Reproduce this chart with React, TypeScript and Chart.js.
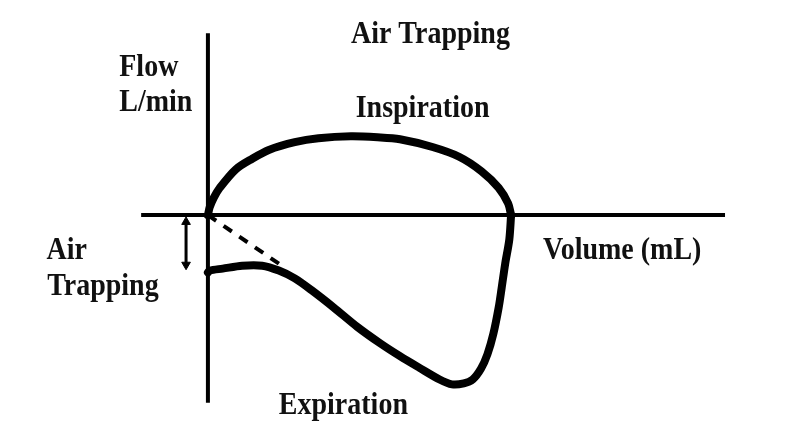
import React, { useEffect, useRef } from "react";
import { Chart, registerables } from "chart.js";

Chart.register(...registerables);

// Volume (mL) and Flow (L/min)
const inspVolume = [0, 3, 10, 20, 47, 75, 103, 147, 187, 242, 287, 325, 380, 425, 463, 492, 508, 513];
const inspFlow = [0, 4, 9, 14, 23.5, 29, 33.5, 37.5, 39.5, 40.5, 40, 39, 35, 30, 22.5, 14, 6, 0];

const expVolume = [513, 510, 503, 497, 492, 483, 473, 462, 448, 433, 413, 392, 358, 325, 292, 253, 213, 175, 147, 120, 92, 58, 25, 3, 0];
const expFlow = [0, -12.5, -25, -37.5, -47.5, -61, -71.5, -79, -84.5, -86.5, -87, -84.5, -78.5, -72.5, -66, -57.5, -47.5, -38.5, -32.5, -28.5, -26, -26, -27.5, -28.5, -29.5];

const dashVolume = [0, 125];
const dashFlow = [0, -26];

const trapVolume = [-37, -37];
const trapFlow = [-3.5, -25.5];

const xAxisVolume = [-113, 875];
const xAxisFlow = [0, 0];
const yAxisVolume = [0, 0];
const yAxisFlow = [93.5, -96.5];

const labelTexts = ["Air Trapping", "Flow", "L/min", "Inspiration", "Volume (mL)", "Air", "Trapping", "Expiration"];
const labelVolume = [242, -150, -150, 250, 567, -273, -272, 120];
const labelFlow = [88.5, 71.5, 53.5, 50.5, -22.5, -22.5, -41, -102];

const pts = (xs: number[], ys: number[]) => xs.map((x, i) => ({ x, y: ys[i] }));

const labelsPlugin = {
  id: "textLabels",
  afterDatasetsDraw(chart: any) {
    const { ctx, scales } = chart;
    const xs = scales.x;
    const ys = scales.y;
    ctx.save();
    ctx.fillStyle = "#111";
    ctx.font = 'bold 28px "Liberation Serif", "Times New Roman", serif';
    ctx.textAlign = "left";
    ctx.textBaseline = "alphabetic";
    labelTexts.forEach((t, i) => {
      const px = xs.getPixelForValue(labelVolume[i]);
      const py = ys.getPixelForValue(labelFlow[i]);
      ctx.save();
      ctx.translate(px, py);
      ctx.scale(1, 1.1);
      ctx.fillText(t, 0, 0);
      ctx.restore();
    });
    ctx.restore();
  },
};

export default function App() {
  const ref = useRef<HTMLCanvasElement | null>(null);
  useEffect(() => {
    document.body.style.margin = "0";
    document.body.style.background = "#fff";
    const canvas = ref.current!;
    const chart = new Chart(canvas, {
      type: "scatter",
      data: {
        datasets: [
          {
            label: "Inspiration",
            data: pts(inspVolume, inspFlow),
            showLine: true,
            borderColor: "#000",
            borderWidth: 8,
            pointRadius: 0,
            tension: 0.3,
            borderJoinStyle: "round",
            borderCapStyle: "round",
            order: 1,
          },
          {
            label: "Expiration",
            data: pts(expVolume, expFlow),
            showLine: true,
            borderColor: "#000",
            borderWidth: 8,
            pointRadius: 0,
            tension: 0.3,
            borderJoinStyle: "round",
            borderCapStyle: "round",
            order: 1,
          },
          {
            label: "Normal",
            data: pts(dashVolume, dashFlow),
            showLine: true,
            borderColor: "#000",
            borderWidth: 4,
            borderDash: [10, 9],
            pointRadius: 0,
            order: 2,
          },
          {
            label: "Trap",
            data: pts(trapVolume, trapFlow),
            showLine: true,
            borderColor: "#000",
            borderWidth: 3,
            pointStyle: "triangle",
            pointRadius: 5,
            pointRotation: [0, 180],
            pointBackgroundColor: "#000",
            pointBorderColor: "#000",
            pointBorderWidth: 1,
            order: 2,
          },
          {
            label: "xAxis",
            data: pts(xAxisVolume, xAxisFlow),
            showLine: true,
            borderColor: "#000",
            borderWidth: 4,
            pointRadius: 0,
            order: 5,
          },
          {
            label: "yAxis",
            data: pts(yAxisVolume, yAxisFlow),
            showLine: true,
            borderColor: "#000",
            borderWidth: 4,
            pointRadius: 0,
            order: 5,
          },
        ],
      },
      options: {
        animation: false,
        responsive: false,
        maintainAspectRatio: false,
        layout: { padding: 0 },
        plugins: { legend: { display: false }, tooltip: { enabled: false }, title: { display: false } },
        scales: {
          x: { type: "linear", min: -205 / 0.6, max: 593 / 0.6, display: false },
          y: { type: "linear", min: -224 / 2, max: 215 / 2, display: false },
        },
      },
      plugins: [labelsPlugin],
    } as any);
    return () => chart.destroy();
  }, []);
  return <canvas ref={ref} width={798} height={439} style={{ display: "block" }} />;
}
